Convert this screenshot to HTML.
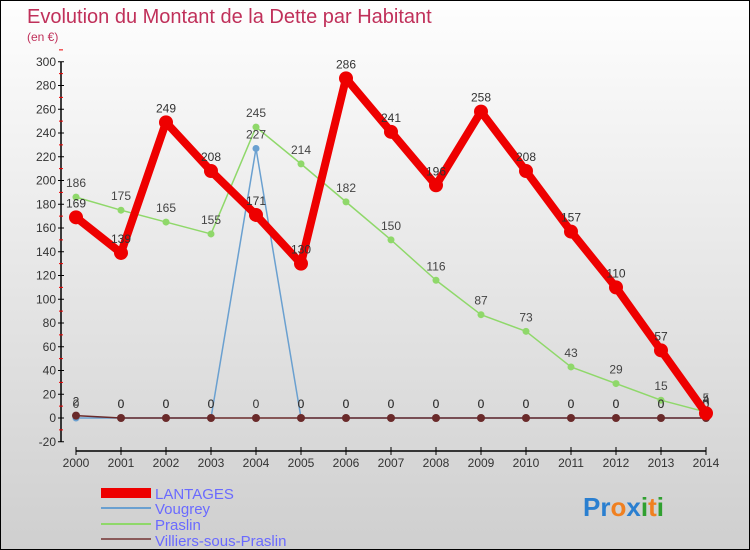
<!DOCTYPE html>
<html><head><meta charset="utf-8"><style>
body{margin:0}
#c{width:750px;height:550px;position:relative;box-sizing:border-box;border:1px solid #000;background:linear-gradient(#fefefe,#cfcfcf);font-family:"Liberation Sans",sans-serif;overflow:hidden}
svg text{font-family:"Liberation Sans",sans-serif}
</style></head><body>
<div id="c">
<svg id="s" width="750" height="550">
<text x="26" y="22" font-size="20" fill="#c0305a">Evolution du Montant de la Dette par Habitant</text>
<text x="26" y="40" font-size="12" fill="#c0305a">(en €)</text>
<g id="g"></g>
<g>
<rect x="100" y="487" width="50" height="10" fill="#e00"/>
<text x="154" y="498" font-size="15" fill="#6a6aff">LANTAGES</text>
<rect x="100" y="506" width="50" height="2" fill="#6aa0d0"/>
<text x="154" y="513" font-size="15" fill="#6a6aff">Vougrey</text>
<rect x="100" y="522" width="50" height="2" fill="#8fd86a"/>
<text x="154" y="529" font-size="15" fill="#6a6aff">Praslin</text>
<rect x="100" y="537" width="50" height="2" fill="#8a5a5a"/>
<text x="154" y="545" font-size="15" fill="#6a6aff">Villiers-sous-Praslin</text>
</g>
<g font-size="26" font-weight="bold">
<text x="582" y="515"><tspan fill="#2a7fd0">Pr</tspan><tspan fill="#f08020">o</tspan><tspan fill="#2a7fd0">x</tspan><tspan fill="#30a030">i</tspan><tspan fill="#f08020">t</tspan><tspan fill="#30a030">i</tspan></text>
</g>
</svg>
</div>
<script>
const years=[2000,2001,2002,2003,2004,2005,2006,2007,2008,2009,2010,2011,2012,2013,2014];
const yTicks=[-20,0,20,40,60,80,100,120,140,160,180,200,220,240,260,280,300];
const lantages=[169,139,249,208,171,130,286,241,196,258,208,157,110,57,4];
const vougrey=[0,0,0,0,227,0,0,0,0,0,0,0,0,0,0];
const praslin=[186,175,165,155,245,214,182,150,116,87,73,43,29,15,5];
const villiers=[2,0,0,0,0,0,0,0,0,0,0,0,0,0,0];
const NS="http://www.w3.org/2000/svg";
const g=document.getElementById('g');
function X(i){return 75+i*45;}
function Y(v){return 417-v*23.75/20;}
function mk(t,a,p){const e=document.createElementNS(NS,t);for(const k in a)e.setAttribute(k,a[k]);(p||g).appendChild(e);return e;}
const ax=mk('line',{x1:60,y1:Y(300),x2:60,y2:Y(-20),stroke:'#000','stroke-width':1.5});


yTicks.forEach(v=>{
 mk('line',{x1:57,y1:Y(v),x2:63,y2:Y(v),stroke:'#000'});
 mk('line',{x1:58,y1:Y(v+10),x2:62,y2:Y(v+10),stroke:'#e00'});
 const t=mk('text',{x:55,y:Y(v)+4,'font-size':12,'text-anchor':'end',fill:'#333'});t.textContent=v;
 
 
});
const xa=mk('line',{x1:X(0),y1:450,x2:X(14),y2:450,stroke:'#000','stroke-width':1.5});


years.forEach((y,i)=>{
 mk('line',{x1:X(i),y1:446,x2:X(i),y2:454,stroke:'#000'});
 const t=mk('text',{x:X(i),y:466,'font-size':12,'text-anchor':'middle',fill:'#333'});t.textContent=y;
 
 
});
function series(d,name,color,w,r,labelColor){
 const s=mk('g',{});
 
 
 const pl=mk('polyline',{points:d.map((v,i)=>X(i)+','+Y(v)).join(' '),fill:'none',stroke:color,'stroke-width':w,'stroke-linejoin':'round'},s);
 
 
 d.forEach((v,i)=>{
  const c=mk('circle',{cx:X(i),cy:Y(v),r:r,fill:color},s);
  
  
  const t=mk('text',{x:X(i),y:Y(v)-10,'font-size':12,'text-anchor':'middle',fill:labelColor},s);t.textContent=v;
  
  
 });
}
series(praslin,'praslin','#8fd86a',1.5,3.5,'#444');
series(vougrey,'vougrey','#6aa0d0',1.5,3.5,'#444');
series(villiers,'villiers','#6a2a2a',1.5,4,'#333');
series(lantages,'lantages','#e00',8,7,'#333');
</script>
</body></html>
